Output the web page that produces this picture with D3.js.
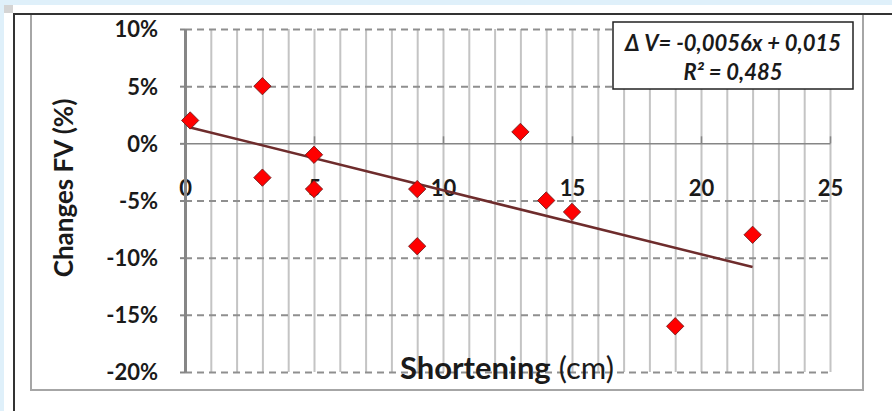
<!DOCTYPE html>
<html>
<head>
<meta charset="utf-8">
<script src="https://cdn.jsdelivr.net/npm/d3@7"></script>
<style>
  html, body { margin: 0; padding: 0; background: #dff0fa; }
  svg { display: block; }
  text { font-family: Lato, "Open Sans", sans-serif; fill: #1a1a1a; }
</style>
</head>
<body>
<svg id="chart" width="892" height="411"></svg>
<script>
// values
var shortening = [0.2, 3, 3, 5, 5, 9, 9, 13, 14, 15, 19, 22];
var changesFV = [0.02, 0.05, -0.03, -0.01, -0.04, -0.04, -0.09, 0.01, -0.05, -0.06, -0.16, -0.08];
var xTicks = [0, 5, 10, 15, 20, 25];
var yTicks = [-0.2, -0.15, -0.1, -0.05, 0, 0.05, 0.1];
var trendSlope = -0.0056, trendIntercept = 0.015;
var eqLines = ["\u0394 V= -0,0056x + 0,015", "R\u00b2 = 0,485"];

var svg = d3.select("#chart");

// frame around the chart (sheet look)
svg.append("rect").attr("x", 4).attr("y", 5).attr("width", 888).attr("height", 406).attr("fill", "#fff");
svg.append("rect").attr("x", 4).attr("y", 5).attr("width", 9).attr("height", 8).attr("fill", "#d4d4d4");
svg.append("line").attr("x1", 14).attr("x2", 14).attr("y1", 14).attr("y2", 411)
   .attr("stroke", "#333").attr("stroke-width", 2);
svg.append("line").attr("x1", 13).attr("x2", 892).attr("y1", 14).attr("y2", 14)
   .attr("stroke", "#333").attr("stroke-width", 2);
svg.append("path").attr("d", "M31,15V390H863V15")
   .attr("fill", "none").attr("stroke", "#a6a6a6").attr("stroke-width", 2);

var x = d3.scaleLinear().domain([0, 25]).range([185, 830]);
var y = d3.scaleLinear().domain([-0.2, 0.1]).range([372, 29]);

// vertical gridlines, one per cm
var vgrid = svg.append("g")
  .attr("transform", "translate(0," + y(-0.2) + ")")
  .call(d3.axisBottom(x).tickValues(d3.range(1, 26)).tickSize(-(y(-0.2) - y(0.1))).tickFormat(""));
vgrid.select(".domain").remove();
vgrid.selectAll("line").attr("stroke", "#c4c4c4").attr("stroke-width", 2);

// horizontal dashed gridlines
var hgrid = svg.append("g")
  .attr("transform", "translate(" + x(0) + ",0)")
  .call(d3.axisLeft(y).tickValues(yTicks.filter(function(d) { return d != 0; }))
        .tickSize(-(x(25) - x(0))).tickFormat(""));
hgrid.select(".domain").remove();
hgrid.selectAll("line").attr("stroke", "#8f8f8f").attr("stroke-width", 2).attr("stroke-dasharray", "7,5");

// x axis sits on the 0% line, labels pushed down
var xAxis = svg.append("g")
  .attr("transform", "translate(0," + y(0) + ")")
  .call(d3.axisTop(x).tickValues(xTicks).tickSize(7).tickSizeOuter(0));
xAxis.select(".domain").attr("stroke", "#868686").attr("stroke-width", 1.5);
xAxis.selectAll("line").attr("stroke", "#868686").attr("stroke-width", 1.5);
xAxis.selectAll("text")
  .attr("y", 45).attr("dy", "0.36em")
  .style("font-size", "22px").style("font-weight", "bold");

// y axis (plain hyphen like the original)
var pct = d3.format(".0%");
var yAxis = svg.append("g")
  .attr("transform", "translate(" + x(0) + ",0)")
  .call(d3.axisLeft(y).tickValues(yTicks).tickSize(5).tickSizeOuter(0)
        .tickFormat(function(d) { return pct(d).replace("\u2212", "-"); }));
yAxis.select(".domain").attr("stroke", "#868686").attr("stroke-width", 3);
yAxis.selectAll("line").attr("stroke", "#868686").attr("stroke-width", 2);
yAxis.selectAll("text")
  .attr("x", -27).attr("dy", "0.36em")
  .style("font-size", "22px").style("font-weight", "bold");

// trendline
var xExt = d3.extent(shortening);
svg.append("path")
  .datum(xExt)
  .attr("d", d3.line().x(function(d) { return x(d); }).y(function(d) { return y(trendSlope * d + trendIntercept); }))
  .attr("fill", "none").attr("stroke", "#6e2c2c").attr("stroke-width", 2.5);

// points
var diamond = d3.symbol().type(d3.symbolSquare).size(150);
svg.append("g").selectAll("path")
  .data(shortening)
  .enter().append("path")
  .attr("d", diamond)
  .attr("transform", function(d, i) { return "translate(" + x(d) + "," + y(changesFV[i]) + ") rotate(45)"; })
  .attr("fill", "#ff0000").attr("stroke", "#6a1a1a").attr("stroke-width", 0.8);

// equation box
svg.append("rect").attr("x", 613).attr("y", 22).attr("width", 240).attr("height", 67)
  .attr("fill", "#fff").attr("stroke", "#222").attr("stroke-width", 1.5);
svg.append("g").selectAll("text")
  .data(eqLines)
  .enter().append("text")
  .attr("x", 733).attr("y", function(d, i) { return 43 + i * 29; })
  .attr("dy", "0.36em").attr("text-anchor", "middle")
  .style("font-size", "22px").style("font-weight", "bold").style("font-style", "italic")
  .text(function(d) { return d; });

// axis titles
svg.append("text")
  .attr("transform", "translate(73,188) rotate(-90)")
  .attr("text-anchor", "middle")
  .style("font-size", "26px").style("font-weight", "bold")
  .text("Changes FV (%)");

var xt = svg.append("text")
  .attr("x", 507).attr("y", 379).attr("text-anchor", "middle")
  .style("font-size", "31px");
xt.append("tspan").style("font-weight", "bold").text("Shortening");
xt.append("tspan").text(" (cm)");
</script>
</body>
</html>
